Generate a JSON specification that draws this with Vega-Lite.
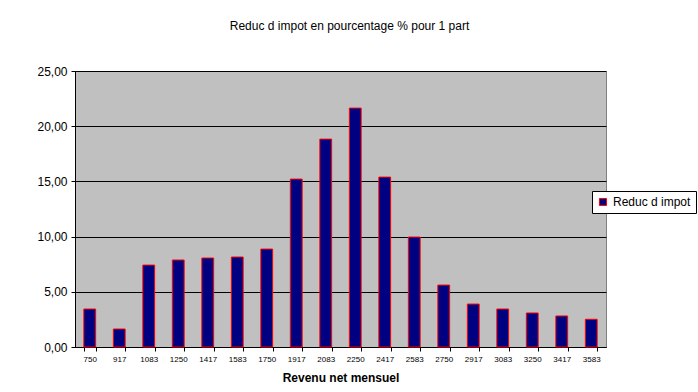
{
  "$schema": "https://vega.github.io/schema/vega-lite/v6.json",
  "width": 531,
  "height": 276,
  "autosize": {"type": "none"},
  "padding": {"left": 75, "top": 71, "right": 92, "bottom": 45},
  "background": "white",
  "title": {
    "text": "Reduc d impot en pourcentage % pour 1 part",
    "font": "Liberation Sans",
    "fontSize": 12,
    "fontWeight": "normal",
    "color": "black",
    "anchor": "middle",
    "dx": 9,
    "offset": 20,
    "baseline": "bottom"
  },
  "config": {
    "view": {"fill": "#C0C0C0", "stroke": "#808080", "strokeWidth": 1},
    "font": "Liberation Sans"
  },
  "data": {
    "values": [
      {"revenu": "750", "reduc": 3.44},
      {"revenu": "917", "reduc": 1.63},
      {"revenu": "1083", "reduc": 7.42},
      {"revenu": "1250", "reduc": 7.88},
      {"revenu": "1417", "reduc": 8.06},
      {"revenu": "1583", "reduc": 8.15},
      {"revenu": "1750", "reduc": 8.87},
      {"revenu": "1917", "reduc": 15.21},
      {"revenu": "2083", "reduc": 18.83},
      {"revenu": "2250", "reduc": 21.64},
      {"revenu": "2417", "reduc": 15.39},
      {"revenu": "2583", "reduc": 9.96},
      {"revenu": "2750", "reduc": 5.61},
      {"revenu": "2917", "reduc": 3.89},
      {"revenu": "3083", "reduc": 3.44},
      {"revenu": "3250", "reduc": 3.08},
      {"revenu": "3417", "reduc": 2.81},
      {"revenu": "3583", "reduc": 2.51}
    ]
  },
  "mark": {"type": "bar", "stroke": "#FF0000", "strokeWidth": 1},
  "encoding": {
    "x": {
      "field": "revenu",
      "type": "nominal",
      "sort": null,
      "scale": {"paddingInner": 0.6, "paddingOuter": 0.3},
      "axis": {
        "title": "Revenu net mensuel",
        "titleFont": "Liberation Sans",
        "titleFontSize": 12,
        "titleFontWeight": "bold",
        "titleColor": "black",
        "titlePadding": 9,
        "labelAngle": 0,
        "labelFont": "Liberation Sans",
        "labelFontSize": 8,
        "labelColor": "black",
        "labelPadding": 4,
        "tickBand": "extent",
        "tickColor": "black",
        "tickSize": 4,
        "domainColor": "black",
        "grid": false
      }
    },
    "y": {
      "field": "reduc",
      "type": "quantitative",
      "scale": {"domain": [0, 25], "nice": false},
      "axis": {
        "title": null,
        "values": [0, 5, 10, 15, 20, 25],
        "labelExpr": "replace(format(datum.value, '.2f'), '.', ',')",
        "labelFont": "Liberation Sans",
        "labelFontSize": 12,
        "labelColor": "black",
        "labelPadding": 4,
        "tickColor": "black",
        "tickSize": 4,
        "domainColor": "black",
        "grid": true,
        "gridColor": "black",
        "gridOpacity": 1,
        "gridWidth": 1
      }
    },
    "color": {
      "datum": "Reduc d impot",
      "type": "nominal",
      "scale": {"range": ["#000080"]},
      "legend": {
        "title": null,
        "orient": "none",
        "legendX": 517,
        "legendY": 120,
        "padding": 5,
        "fillColor": "white",
        "strokeColor": "black",
        "symbolType": "square",
        "symbolSize": 50,
        "symbolStrokeColor": "#FF0000",
        "symbolStrokeWidth": 1,
        "symbolFillColor": "#000080",
        "symbolOpacity": 1,
        "labelFont": "Liberation Sans",
        "labelFontSize": 12,
        "labelColor": "black",
        "labelOffset": 4
      }
    }
  }
}
